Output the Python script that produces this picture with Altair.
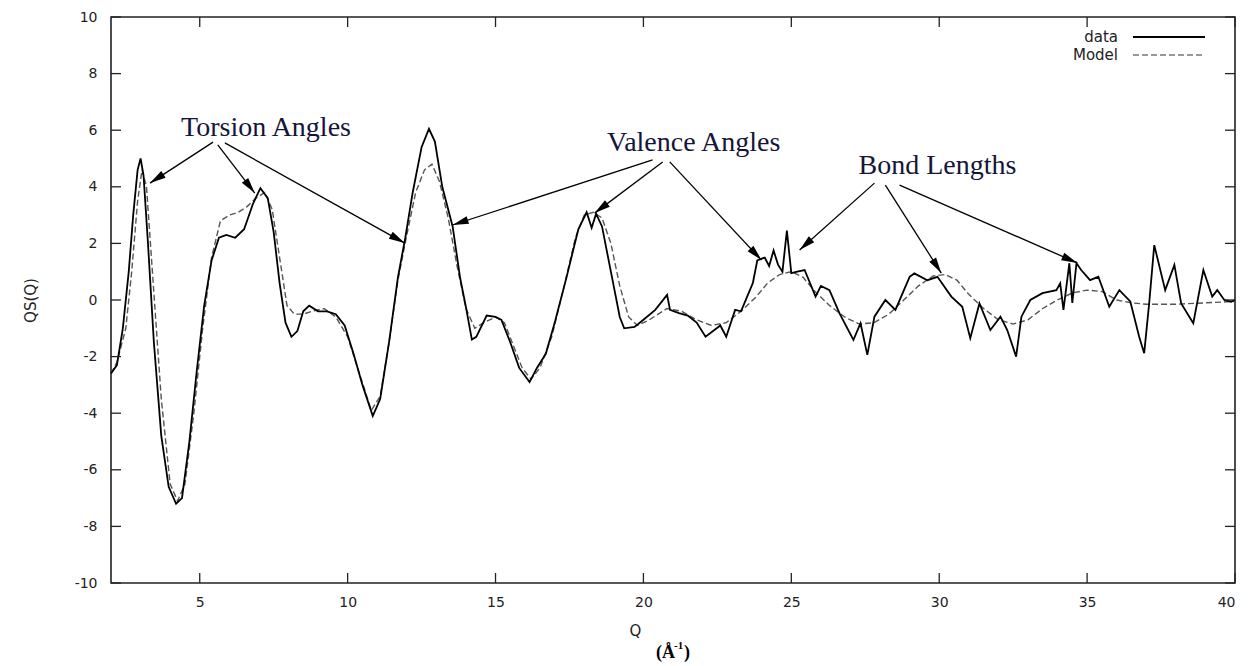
import math
import altair as alt
import pandas as pd

# ---- data curve (Q, QS(Q)) ----
data_q = [2.0, 2.2, 2.4, 2.6, 2.75, 2.9, 3.0, 3.1, 3.25, 3.45, 3.7, 3.95, 4.2, 4.4, 4.65, 4.9,
          5.15, 5.4, 5.65, 5.9, 6.2, 6.5, 6.8, 7.05, 7.3, 7.5, 7.7, 7.9, 8.1, 8.3, 8.5, 8.7,
          9.0, 9.3, 9.6, 9.9, 10.2, 10.5, 10.85, 11.1, 11.4, 11.7, 11.95, 12.2, 12.5, 12.75,
          12.95, 13.2, 13.55, 13.8, 14.0, 14.2, 14.35, 14.7, 15.0, 15.2, 15.5, 15.8, 16.15,
          16.4, 16.7, 17.0, 17.4, 17.8, 18.08, 18.25, 18.4, 18.6, 18.9, 19.2, 19.35, 19.7,
          20.0, 20.4, 20.8, 20.9, 21.2, 21.5, 21.8, 22.1, 22.4, 22.6, 22.8, 23.1, 23.3, 23.5,
          23.7, 23.85, 24.1, 24.25, 24.4, 24.55, 24.7, 24.85, 25.0, 25.2, 25.45, 25.82, 26.0,
          26.29, 26.63, 27.1, 27.34, 27.57, 27.81, 28.18, 28.52, 29.0, 29.16, 29.6, 29.94,
          30.41, 30.78, 31.05, 31.36, 31.73, 32.07, 32.3, 32.6, 32.78, 33.08, 33.49, 33.96,
          34.09, 34.2, 34.4, 34.5, 34.64, 34.8, 35.1, 35.38, 35.75, 36.09, 36.46, 36.76,
          36.93, 37.1, 37.27, 37.64, 37.95, 38.18, 38.59, 38.93, 39.23, 39.4, 39.64, 39.87,
          40.0]
data_v = [-2.6, -2.3, -1.0, 1.0, 3.0, 4.6, 5.0, 4.4, 2.0, -1.5, -4.8, -6.6, -7.2, -7.0, -5.0, -2.5,
          -0.2, 1.4, 2.2, 2.3, 2.2, 2.5, 3.4, 3.95, 3.6, 2.4, 0.6, -0.8, -1.3, -1.1, -0.4, -0.2,
          -0.4, -0.4, -0.5, -0.9, -1.9, -3.0, -4.1, -3.5, -1.5, 0.8, 2.2, 3.8, 5.4, 6.05,
          5.6, 4.0, 2.6, 0.8, -0.25, -1.4, -1.3, -0.55, -0.6, -0.7, -1.5, -2.4, -2.9,
          -2.4, -1.9, -0.8, 0.8, 2.5, 3.1, 2.55, 3.05, 2.6, 1.0, -0.6, -1.0, -0.95,
          -0.7, -0.35, 0.18, -0.35, -0.46, -0.55, -0.8, -1.3, -1.06, -0.9, -1.3, -0.35, -0.4,
          0.1, 0.6, 1.4, 1.5, 1.2, 1.75, 1.25, 1.0, 2.45, 0.95, 1.0, 1.06, 0.12, 0.5,
          0.35, -0.47, -1.41, -0.82, -1.94, -0.59, 0.0, -0.35, 0.82, 0.94, 0.7, 0.82,
          0.12, -0.24, -1.35, -0.12, -1.06, -0.59, -1.06, -2.0, -0.59, 0.0, 0.24, 0.35,
          0.59, -0.35, 1.3, -0.1, 1.3, 1.06, 0.7, 0.82, -0.24, 0.35, -0.05, -1.3,
          -1.88, -0.1, 1.94, 0.35, 1.24, -0.12, -0.82, 1.06, 0.12, 0.35, 0.0, -0.06,
          0.0]

# ---- model curve ----
model_q = [2.0, 2.2, 2.5, 2.7, 2.9, 3.05, 3.2, 3.4, 3.7, 4.0, 4.25, 4.5, 4.8, 5.1, 5.4, 5.7, 6.0,
           6.3, 6.6, 6.9, 7.2, 7.45, 7.7, 7.95, 8.2, 8.5, 8.8, 9.2, 9.6, 10.0, 10.4, 10.8, 11.1,
           11.4, 11.7, 12.0, 12.3, 12.6, 12.85, 13.1, 13.4, 13.7, 14.0, 14.3, 14.6, 15.0, 15.3,
           15.6, 15.9, 16.2, 16.5, 16.9, 17.3, 17.7, 18.0, 18.3, 18.6, 18.9, 19.2, 19.5, 19.8,
           20.2, 20.8, 21.3, 21.8, 22.3, 22.8, 23.3, 23.8, 24.2, 24.6, 25.0, 25.4, 25.8, 26.3,
           26.8, 27.3, 27.8, 28.3, 28.8, 29.3, 29.8, 30.2, 30.6, 31.0, 31.5, 32.0, 32.5, 33.0,
           33.5, 34.0, 34.5, 35.0, 35.5, 36.0, 36.5, 37.0, 38.0, 39.0, 40.0]
model_v = [-2.6, -2.2, -1.0, 1.0, 3.5, 4.6, 4.0, 1.0, -3.5, -6.5, -7.1, -6.5, -4.0, -1.0, 1.5, 2.8, 3.0,
           3.1, 3.3, 3.6, 3.8, 3.2, 1.5, -0.2, -0.5, -0.5, -0.4, -0.3, -0.6, -1.3, -2.6, -3.9, -3.4,
           -1.5, 0.7, 2.3, 3.8, 4.6, 4.8, 4.2, 2.9, 1.2, -0.3, -1.0, -0.8, -0.6, -0.8,
           -1.6, -2.4, -2.8, -2.4, -1.3, 0.4, 2.2, 3.0, 3.1, 2.9, 2.0, 0.5, -0.6, -0.9,
           -0.7, -0.3, -0.4, -0.7, -0.9, -0.8, -0.4, 0.1, 0.6, 0.9, 1.0, 0.8, 0.3, -0.2,
           -0.6, -0.85, -0.8, -0.5, 0.0, 0.5, 0.85, 0.9, 0.7, 0.2, -0.3, -0.7, -0.85, -0.7,
           -0.3, 0.0, 0.25, 0.35, 0.3, 0.0, -0.1, -0.15, -0.15, -0.1, -0.05]

# ---- annotations ----
label_text = ["Torsion Angles", "Valence Angles", "Bond Lengths"]
label_q = [7.24, 21.7, 29.94]
label_v = [6.08, 5.55, 4.73]

arrow_q1 = [5.45, 5.61, 5.85, 20.31, 20.65, 20.89, 27.81, 28.18, 28.66]
arrow_v1 = [5.58, 5.48, 5.55, 4.95, 4.88, 4.88, 4.13, 4.06, 4.06]
arrow_q2 = [3.32, 6.86, 11.93, 13.55, 18.35, 23.99, 25.28, 30.07, 34.67]
arrow_v2 = [4.13, 3.78, 2.01, 2.65, 3.07, 1.41, 1.77, 0.95, 1.31]

x_ticks = [5, 10, 15, 20, 25, 30, 35, 40]
y_ticks = [-10, -8, -6, -4, -2, 0, 2, 4, 6, 8, 10]

W, H = 1124, 566
XD, YD = [2, 40], [-10, 10]
pxq = W / (XD[1] - XD[0])
pyv = H / (YD[1] - YD[0])

curve_df = pd.concat([
    pd.DataFrame({"Q": data_q, "v": data_v, "s": "data"}),
    pd.DataFrame({"Q": model_q, "v": model_v, "s": "Model"}),
])

ang = []
for a, b, c, d in zip(arrow_q1, arrow_v1, arrow_q2, arrow_v2):
    dx = (c - a) * pxq
    dy = -(d - b) * pyv
    ang.append(math.degrees(math.atan2(dx, -dy)) % 360)
arrow_df = pd.DataFrame({"q1": arrow_q1, "v1": arrow_v1, "q2": arrow_q2, "v2": arrow_v2, "ang": ang})
label_df = pd.DataFrame({"t": label_text, "q": label_q, "v": label_v})
xt_df = pd.DataFrame({"t": x_ticks})
yt_df = pd.DataFrame({"t": y_ticks})
one = pd.DataFrame({"a": [0]})

xs = alt.Scale(domain=XD, nice=False, zero=False)
ys = alt.Scale(domain=YD, nice=False, zero=False)

x_axis = alt.Axis(values=x_ticks, title="Q", domain=False, ticks=False, grid=False,
                  labelPadding=12, labelExpr="toString(datum.value)",
                  titleX=524, titleY=47, titleBaseline="middle",
                  titleFont="DejaVu Sans", titleFontSize=15, titleFontWeight="normal",
                  titleColor="#222")
y_axis = alt.Axis(values=y_ticks, title="QS(Q)", domain=False, ticks=False, grid=False,
                  labelPadding=14, labelExpr="toString(datum.value)",
                  titleX=-81, titleY=283, titleAlign="center",
                  titleBaseline="middle", titleFont="DejaVu Sans", titleFontSize=15,
                  titleFontWeight="normal", titleColor="#222")

base = alt.Chart(curve_df)
data_line = base.transform_filter(alt.datum.s == "data").mark_line(
    color="black", strokeWidth=1.8).encode(
    x=alt.X("Q:Q", scale=xs, axis=x_axis),
    y=alt.Y("v:Q", scale=ys, axis=y_axis),
)
model_line = base.transform_filter(alt.datum.s == "Model").mark_line(
    color="#555", strokeWidth=1.4, strokeDash=[6, 3]).encode(
    x=alt.X("Q:Q", scale=xs), y=alt.Y("v:Q", scale=ys),
)

arrows = alt.Chart(arrow_df).mark_rule(color="black", strokeWidth=1.3).encode(
    x=alt.X("q1:Q", scale=xs), y=alt.Y("v1:Q", scale=ys),
    x2="q2:Q", y2="v2:Q",
)
heads = alt.Chart(arrow_df).mark_point(
    shape="M0,0L-0.5,2L0.5,2Z", filled=True, size=256, color="black", opacity=1).encode(
    x=alt.X("q2:Q", scale=xs), y=alt.Y("v2:Q", scale=ys),
    angle=alt.Angle("ang:Q", scale=None),
)
labels = alt.Chart(label_df).mark_text(
    font="Liberation Serif", fontSize=28, color="#15153a", align="center", baseline="middle").encode(
    x=alt.X("q:Q", scale=xs), y=alt.Y("v:Q", scale=ys), text="t:N",
)

TL = 10
tick_style = dict(color="#222", strokeWidth=1.3)
yt_left = alt.Chart(yt_df).mark_rule(**tick_style).encode(
    y=alt.Y("t:Q", scale=ys), x=alt.value(0), x2=alt.value(TL))
yt_right = alt.Chart(yt_df).mark_rule(**tick_style).encode(
    y=alt.Y("t:Q", scale=ys), x=alt.value(W - TL), x2=alt.value(W))
xt_bot = alt.Chart(xt_df).mark_rule(**tick_style).encode(
    x=alt.X("t:Q", scale=xs), y=alt.value(H - TL), y2=alt.value(H))
xt_top = alt.Chart(xt_df).mark_rule(**tick_style).encode(
    x=alt.X("t:Q", scale=xs), y=alt.value(0), y2=alt.value(TL))

leg_font = dict(font="DejaVu Sans", fontSize=15, color="#222", align="right", baseline="middle")
leg_t1 = alt.Chart(one).mark_text(text="data", **leg_font).encode(x=alt.value(1007), y=alt.value(20))
leg_t2 = alt.Chart(one).mark_text(text="Model", **leg_font).encode(x=alt.value(1007), y=alt.value(38))
leg_l1 = alt.Chart(one).mark_rule(color="black", strokeWidth=1.8).encode(
    x=alt.value(1022), x2=alt.value(1094), y=alt.value(20))
leg_l2 = alt.Chart(one).mark_rule(color="#777", strokeWidth=1.4, strokeDash=[6, 3]).encode(
    x=alt.value(1022), x2=alt.value(1094), y=alt.value(38))

unit_font = dict(font="Liberation Serif", fontWeight="bold", color="black", baseline="middle")
unit_a = alt.Chart(one).mark_text(text="(Å", fontSize=18, align="right", **unit_font).encode(
    x=alt.value(564), y=alt.value(636))
unit_b = alt.Chart(one).mark_text(text="-1", fontSize=11, align="left", **unit_font).encode(
    x=alt.value(563), y=alt.value(629))
unit_c = alt.Chart(one).mark_text(text=")", fontSize=18, align="left", **unit_font).encode(
    x=alt.value(573), y=alt.value(636))

chart = alt.layer(
    model_line, data_line, arrows, heads, labels,
    yt_left, yt_right, xt_bot, xt_top,
    leg_t1, leg_t2, leg_l1, leg_l2, unit_a, unit_b, unit_c,
).properties(
    width=W, height=H,
    padding={"left": 111, "top": 17, "right": 14, "bottom": 83},
    autosize=alt.AutoSizeParams(type="none"),
    background="white",
).configure_view(
    stroke="#222", strokeWidth=1.6
).configure_axis(
    labelFont="DejaVu Sans", labelFontSize=14, labelColor="#222"
)

chart.save("out.html", embed_options={"renderer": "svg", "actions": False})
